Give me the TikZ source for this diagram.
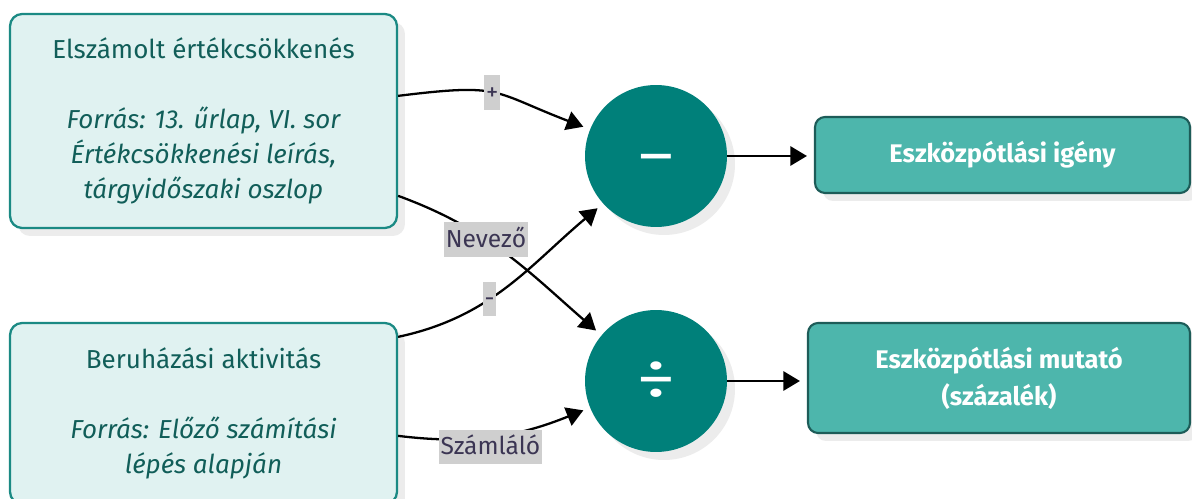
\documentclass[tikz,border=0pt]{standalone}
\usepackage{fontspec}
\setmainfont{Fira Sans}
\usetikzlibrary{arrows.meta,shadows}

\definecolor{srcfill}{HTML}{E0F2F1}
\definecolor{srcline}{HTML}{1B8A84}
\definecolor{srctext}{HTML}{115E59}
\definecolor{opfill}{HTML}{00807A}
\definecolor{outfill}{HTML}{4DB6AC}
\definecolor{outline}{HTML}{1D5C58}
\definecolor{lblfill}{HTML}{CFCFCF}
\definecolor{lbltext}{HTML}{3B3553}
\definecolor{shade}{HTML}{ECECEC}

\tikzset{
  softshadow/.style={drop shadow={shadow xshift=0.16cm, shadow yshift=-0.16cm, fill=shade, opacity=1}},
  srcbox/.style={draw=srcline, line width=1.3pt, fill=srcfill, rounded corners=0.24cm,
    text=srctext, align=center, softshadow,
    font=\fontsize{14.8}{20}\selectfont, inner sep=0pt},
  opnode/.style={circle, fill=opfill, minimum size=2.84cm, inner sep=0pt, text=white,
    softshadow, font=\fontsize{34}{34}\selectfont},
  outbox/.style={draw=outline, line width=1.2pt, fill=outfill, rounded corners=0.2cm,
    text=white, align=center, softshadow,
    font=\fontsize{14.5}{21}\selectfont\bfseries, inner sep=0pt},
  flow/.style={draw=black, line width=1.3pt, -{Triangle[length=9.5pt,width=11pt]}},
  lbl/.style={fill=lblfill, text=lbltext, font=\fontsize{14}{16}\selectfont,
    inner xsep=1pt, inner ysep=1pt, text height=13pt, text depth=4.5pt}
}

\begin{document}
\begin{tikzpicture}[x=0.02cm, y=0.02cm]
  \clip (0,0) rectangle (1192,-499);
  \fill[white] (0,0) rectangle (1192,-499);

  % source boxes
  \node[srcbox, minimum width=7.74cm, minimum height=4.28cm] (b1) at (203.5,-121)
    {Elszámolt értékcsökkenés\\[20pt]
     \itshape Forrás: 13. űrlap, VI. sor\\
     \itshape Értékcsökkenési leírás,\\
     \itshape tárgyidőszaki oszlop};
  \node[srcbox, minimum width=7.74cm, minimum height=3.62cm] (b2) at (203.5,-413.5)
    {Beruházási aktivitás\\[20pt]
     \itshape Forrás: Előző számítási\\
     \itshape lépés alapján};

  % operators
  \node[opnode] (c1) at (656,-156)
    {\raisebox{-0.18cm}[\height][\depth]{\scalebox{1.33}[1]{−}}};
  \node[opnode] (c2) at (656,-381) {\scalebox{1.33}[1]{÷}};

  % results
  \node[outbox, minimum width=7.5cm, minimum height=1.52cm] (o1) at (1002.5,-155)
    {Eszközpótlási igény};
  \node[outbox, minimum width=7.64cm, minimum height=2.2cm] (o2) at (999,-378)
    {Eszközpótlási mutató\\(százalék)};

  % connectors
  \draw[flow, shorten >=4pt] ([yshift=-1.66cm]b1.north east)
    to[out=7, in=159, looseness=1.4] node[lbl, pos=0.47] {+} (c1.158);
  \draw[flow, shorten >=4pt] ([yshift=-3.66cm]b1.north east)
    to[out=-20, in=139] node[lbl, pos=0.39] {Nevező} (c2.140);
  \draw[flow, shorten >=4pt] ([yshift=-0.3cm]b2.north east)
    to[out=12, in=220] node[lbl, pos=0.4] {-} (c1.222);
  \draw[flow, shorten >=4pt] ([yshift=-2.28cm]b2.north east)
    to[out=-7, in=202] node[lbl, pos=0.47, yshift=-0.2cm] {Számláló} (c2.202);

  \draw[flow, shorten >=4pt] (c1.east) -- (o1.west |- c1.east);
  \draw[flow, shorten >=4pt] (c2.east) -- (o2.west |- c2.east);
\end{tikzpicture}
\end{document}
